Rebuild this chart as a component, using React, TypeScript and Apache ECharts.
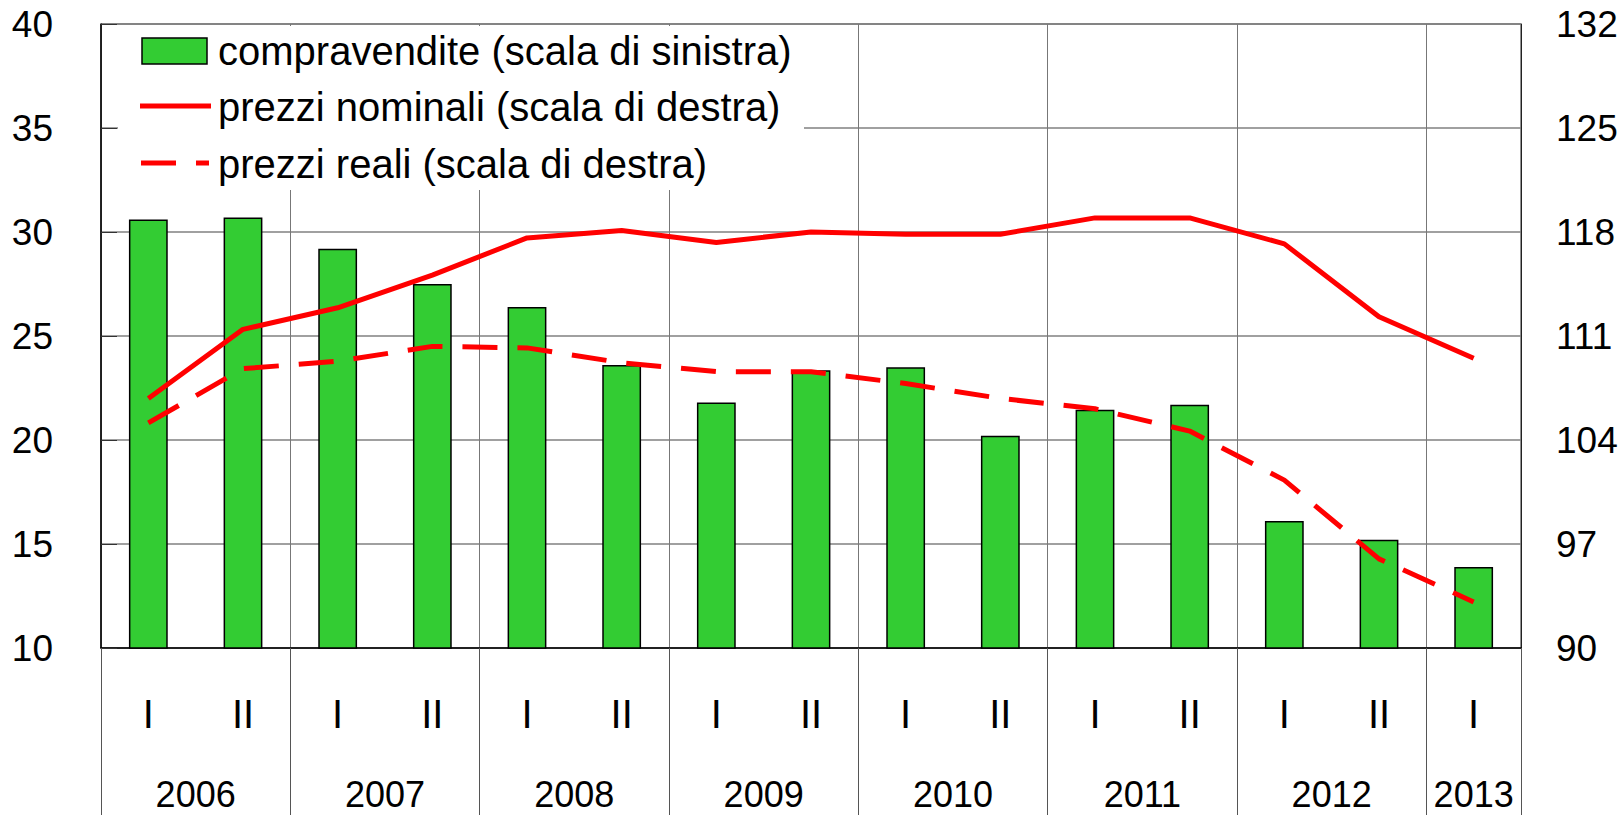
import React, { useEffect, useRef } from "react";
import * as echarts from "echarts";

const halves = ["I", "II", "I", "II", "I", "II", "I", "II", "I", "II", "I", "II", "I", "II", "I"];
const years = ["2006", "2006", "2007", "2007", "2008", "2008", "2009", "2009", "2010", "2010", "2011", "2011", "2012", "2012", "2013"];
const compravendite = [30.6, 30.7, 29.2, 27.5, 26.4, 23.6, 21.8, 23.35, 23.5, 20.2, 21.45, 21.7, 16.1, 15.2, 13.9];
const prezziNominali = [106.8, 111.45, 112.9, 115.1, 117.6, 118.1, 117.3, 118.0, 117.85, 117.85, 118.95, 118.95, 117.2, 112.3, 109.5];
const prezziReali = [105.15, 108.8, 109.3, 110.3, 110.2, 109.2, 108.6, 108.6, 107.8, 106.8, 106.1, 104.6, 101.3, 96.0, 93.1];
const leftTicks = [10, 15, 20, 25, 30, 35, 40];
const rightTicks = [90, 97, 104, 111, 118, 125, 132];
const legendLabels = [
  "compravendite (scala di sinistra)",
  "prezzi nominali (scala di destra)",
  "prezzi reali (scala di destra)",
];

const FONT = "'Liberation Sans', Arial, sans-serif";
const GREEN = "#33CC33";
const RED = "#FF0000";

export default function App() {
  const ref = useRef<HTMLDivElement>(null);
  useEffect(() => {
    if (!ref.current) return;
    const chart = echarts.init(ref.current, null, { renderer: "svg" });

    // year spans (start index, count) derived from category list
    const spans: { year: string; center: number }[] = [];
    let start = 0;
    for (let i = 1; i <= years.length; i++) {
      if (i === years.length || years[i] !== years[start]) {
        spans.push({ year: years[start], center: (start + i) / 2 });
        start = i;
      }
    }
    const isYearStart = (i: number) => i === 0 || years[i] !== years[i - 1];

    chart.setOption({
      animation: false,
      backgroundColor: "#fff",
      grid: {
        left: 101,
        right: 101,
        top: 24,
        bottom: 167,
        containLabel: false,
        show: true,
        borderColor: "#222",
        borderWidth: 1,
      },
      xAxis: [
        {
          type: "category",
          data: halves,
          boundaryGap: true,
          position: "bottom",
          axisLine: { show: true, lineStyle: { color: "#000", width: 1.5 } },
          axisTick: {
            show: true,
            interval: (i: number) => isYearStart(i),
            length: 167,
            lineStyle: { color: "#555", width: 1 },
          },
          splitLine: {
            show: true,
            interval: (i: number) => isYearStart(i),
            lineStyle: { color: "#777", width: 1 },
          },
          axisLabel: {
            interval: 0,
            fontSize: 40,
            fontFamily: FONT,
            color: "#000",
            margin: 46,
          },
        },
        {
          type: "value",
          min: 0,
          max: halves.length,
          interval: 0.5,
          position: "bottom",
          axisLine: { show: false },
          axisTick: { show: false },
          splitLine: { show: false },
          axisLabel: {
            fontSize: 36,
            fontFamily: FONT,
            color: "#000",
            margin: 128,
            showMinLabel: true,
            showMaxLabel: true,
            formatter: (v: number) => {
              const s = spans.find((sp) => Math.abs(sp.center - v) < 1e-6);
              return s ? s.year : "";
            },
          },
        },
      ],
      yAxis: [
        {
          type: "value",
          min: leftTicks[0],
          max: leftTicks[leftTicks.length - 1],
          interval: leftTicks[1] - leftTicks[0],
          position: "left",
          axisLine: { show: true, lineStyle: { color: "#000", width: 1.5 } },
          axisTick: { show: true, inside: true, length: 16, lineStyle: { color: "#333" } },
          splitLine: { show: true, lineStyle: { color: "#808080", width: 1.5 } },
          axisLabel: { fontSize: 37, fontFamily: FONT, color: "#000", margin: 48 },
        },
        {
          type: "value",
          min: rightTicks[0],
          max: rightTicks[rightTicks.length - 1],
          interval: rightTicks[1] - rightTicks[0],
          position: "right",
          axisLine: { show: true, lineStyle: { color: "#222", width: 1 } },
          axisTick: { show: false },
          splitLine: { show: false },
          axisLabel: { fontSize: 37, fontFamily: FONT, color: "#000", margin: 35 },
        },
      ],
      series: [
        {
          name: legendLabels[0],
          type: "bar",
          data: compravendite,
          barWidth: "41%",
          itemStyle: { color: GREEN, borderColor: "#000", borderWidth: 1.5 },
          z: 3,
        },
        {
          name: legendLabels[1],
          type: "line",
          yAxisIndex: 1,
          data: prezziNominali,
          symbol: "none",
          lineStyle: { color: RED, width: 5 },
          z: 5,
        },
        {
          name: legendLabels[2],
          type: "line",
          yAxisIndex: 1,
          data: prezziReali,
          symbol: "none",
          lineStyle: { color: RED, width: 5, type: [35, 20] },
          z: 5,
        },
      ],
      graphic: [
        {
          type: "rect",
          z: 20,
          shape: { x: 118, y: 26, width: 686, height: 164 },
          style: { fill: "#fff" },
        },
        {
          type: "rect",
          z: 21,
          shape: { x: 142, y: 38, width: 65, height: 26 },
          style: { fill: GREEN, stroke: "#000", lineWidth: 1.5 },
        },
        {
          type: "line",
          z: 21,
          shape: { x1: 140, y1: 106, x2: 211, y2: 106 },
          style: { stroke: RED, lineWidth: 5 },
        },
        {
          type: "line",
          z: 21,
          shape: { x1: 141, y1: 163, x2: 209, y2: 163 },
          style: { stroke: RED, lineWidth: 5, lineDash: [35, 20] },
        },
        ...legendLabels.map((t, i) => ({
          type: "text",
          z: 21,
          x: 218,
          y: [51, 107, 164][i],
          style: {
            text: t,
            fontSize: 40,
            fontFamily: FONT,
            fill: "#000",
            verticalAlign: "middle",
            align: "left",
          },
        })),
      ],
    });
    return () => chart.dispose();
  }, []);
  return (
    <div
      ref={ref}
      style={{ position: "fixed", left: 0, top: 0, width: 1622, height: 815, background: "#fff" }}
    />
  );
}
